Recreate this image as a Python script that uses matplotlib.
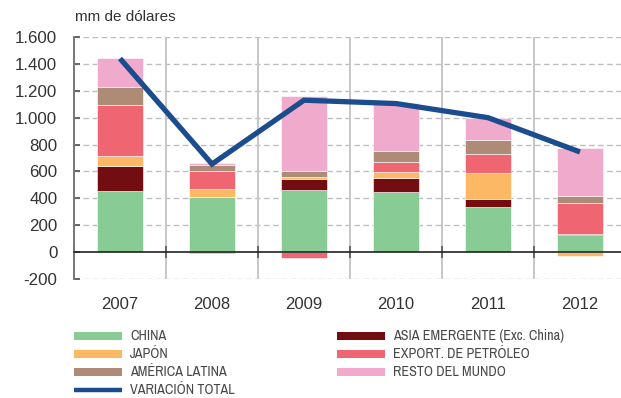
import matplotlib
matplotlib.use("Agg")
import matplotlib.pyplot as plt
import numpy as np
from matplotlib import font_manager as fm
from matplotlib.patches import Rectangle
from matplotlib.lines import Line2D

years = ["2007", "2008", "2009", "2010", "2011", "2012"]

china = [456, 412, 461, 446, 332, 126]
asia_emergente = [184, -10, 82, 107, 62, 10]
japon = [74, 59, 15, 42, 196, -30]
export_petroleo = [377, 129, -45, 72, 142, 226]
america_latina = [137, 50, 47, 87, 104, 57]
resto_mundo = [215, 12, 556, 355, 163, 357]
variacion_total = [1440, 655, 1130, 1105, 1000, 745]

series = [
    ("CHINA", china, "#88CB94"),
    ("ASIA EMERGENTE (Exc. China)", asia_emergente, "#720E12"),
    ("JAPÓN", japon, "#FDB866"),
    ("EXPORT. DE PETRÓLEO", export_petroleo, "#F06572"),
    ("AMÉRICA LATINA", america_latina, "#AE8B77"),
    ("RESTO DEL MUNDO", resto_mundo, "#F0AACB"),
]
line_color = "#1B4C8E"
yticks = [-200, 0, 200, 400, 600, 800, 1000, 1200, 1400, 1600]
ytick_labels = ["-200", "0", "200", "400", "600", "800", "1.000", "1.200", "1.400", "1.600"]

# narrow face for the legend, if one is installed
installed = {f.name for f in fm.fontManager.ttflist}
narrow = [n for n in ("Archivo Narrow", "Liberation Sans Narrow") if n in installed]
leg_font = narrow[:1] + ["DejaVu Sans"]
leg_stretch = "normal" if narrow else "condensed"
num_font = ["Liberation Sans", "DejaVu Sans"]

W, H = 621, 398
fig = plt.figure(figsize=(W / 100, H / 100), dpi=100)

ax_left, ax_right, ax_top, ax_bot = 74, 626, 37, 279
ax = fig.add_axes([ax_left / W, 1 - ax_bot / H, (ax_right - ax_left) / W, (ax_bot - ax_top) / H])

x = np.arange(len(years))
pos_base = np.zeros(len(years))
neg_base = np.zeros(len(years))
for name, vals, col in series:
    v = np.array(vals, dtype=float)
    base = np.where(v >= 0, pos_base, neg_base)
    ax.bar(x, v, width=0.5, bottom=base, color=col, edgecolor="white",
           linewidth=0.4, zorder=3)
    pos_base += np.where(v >= 0, v, 0)
    neg_base += np.where(v < 0, v, 0)

ax.plot(x, variacion_total, color=line_color, lw=3.8, zorder=5,
        solid_capstyle="butt", solid_joinstyle="miter")

ax.set_xlim(-0.5, len(years) - 0.5)
ax.set_ylim(-200, 1600)

# horizontal dashed grid
for yv in yticks:
    if yv != 0:
        ax.axhline(yv, color="#BDBDBD", lw=1.0, ls=(0, (4, 2.5)), zorder=1)
# category separators
for b in np.arange(0.5, len(years) - 0.5, 1.0):
    ax.axvline(b, color="#C6C6C6", lw=1.4, zorder=1)

for s in ["top", "right"]:
    ax.spines[s].set_visible(False)
ax.spines["left"].set_color("#777777")
ax.spines["left"].set_linewidth(1.4)
ax.spines["bottom"].set_position(("data", 0))
ax.spines["bottom"].set_color("#222222")
ax.spines["bottom"].set_linewidth(1.2)
ax.spines["bottom"].set_zorder(4)

ax.set_yticks(yticks)
ax.set_yticklabels(ytick_labels, fontfamily=num_font, fontsize=12.2, color="#333333")
ax.tick_params(axis="y", direction="in", length=4, width=1.4, color="#666666", pad=12)

ax.set_xticks(np.arange(-0.5, len(years), 1.0))
ax.set_xticklabels([])
ax.tick_params(axis="x", direction="inout", length=8, width=1.2, color="#555555")

for i, yr in enumerate(years):
    ax.annotate(yr, xy=(i, -200), xytext=(0, -13), textcoords="offset points",
                ha="center", va="top", fontfamily=num_font, fontsize=12,
                color="#333333", annotation_clip=False)

fig.text(75 / W, 1 - 17 / H, "mm de dólares", ha="left", va="center",
         fontfamily=num_font, fontsize=11, color="#333333")

# legend laid out in two columns
def fx(px):
    return px / W

def fy(py):
    return 1 - py / H

leg_kw = dict(ha="left", va="center", fontfamily=leg_font, fontstretch=leg_stretch,
              fontsize=10.2, color="#484848")
rows_y = [336, 354, 372, 390]
col1 = [series[0], series[2], series[4]]
col2 = [series[1], series[3], series[5]]
for (name, _, col), ry in zip(col1, rows_y):
    fig.add_artist(Rectangle((fx(74), fy(ry + 4)), fx(48), 8 / H,
                             facecolor=col, edgecolor="none", transform=fig.transFigure))
    fig.text(fx(130), fy(ry), name, **leg_kw)
for (name, _, col), ry in zip(col2, rows_y):
    fig.add_artist(Rectangle((fx(337), fy(ry + 4)), fx(48), 8 / H,
                             facecolor=col, edgecolor="none", transform=fig.transFigure))
    fig.text(fx(393), fy(ry), name, **leg_kw)
fig.add_artist(Line2D([fx(74), fx(122)], [fy(rows_y[3]), fy(rows_y[3])], color=line_color,
                      lw=3.2, transform=fig.transFigure, solid_capstyle="butt"))
fig.text(fx(130), fy(rows_y[3]), "VARIACIÓN TOTAL", **leg_kw)

fig.savefig("out.png", dpi=100)
